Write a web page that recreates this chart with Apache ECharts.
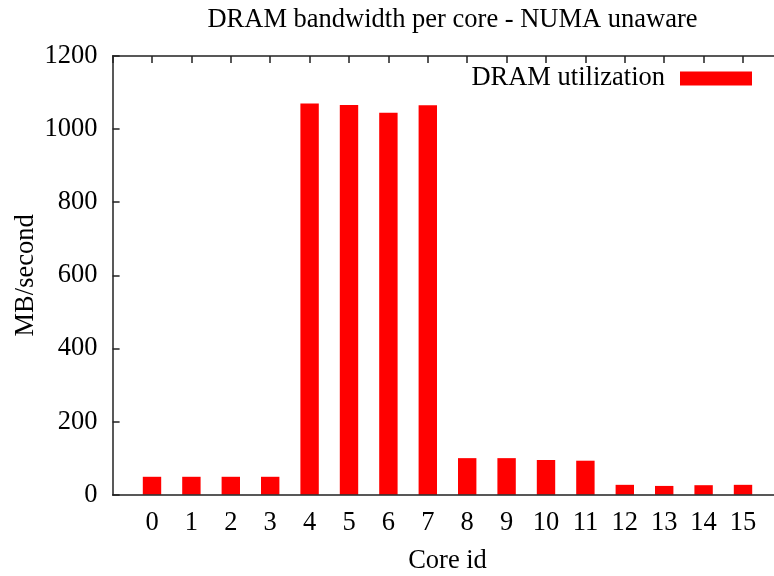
<!DOCTYPE html>
<html>
<head>
<meta charset="utf-8">
<script src="https://cdn.jsdelivr.net/npm/echarts@6/dist/echarts.min.js"></script>
<style>
  html, body { margin: 0; padding: 0; background: #fff; }
  #chart { width: 774px; height: 576px; }
</style>
</head>
<body>
<div id="chart"></div>
<script>
// Core ids and measured DRAM bandwidth (MB/s) per core
const coreIds = [0, 1, 2, 3, 4, 5, 6, 7, 8, 9, 10, 11, 12, 13, 14, 15];
const dramUtilization = [49, 49, 49, 49, 1070, 1066, 1045, 1065, 100, 100, 95, 93, 27, 24, 26, 27];
const yTicks = [0, 200, 400, 600, 800, 1000, 1200];

const FONT = '"Liberation Serif", "DejaVu Serif", serif';
const FONT_SIZE = 26.5;
const AXIS_COLOR = '#222';

const chart = echarts.init(document.getElementById('chart'), null, { renderer: 'canvas' });

const barData = coreIds.map((id, i) => [id, dramUtilization[i]]);

chart.setOption({
  backgroundColor: '#fff',
  animation: false,
  title: {
    text: 'DRAM bandwidth per core - NUMA unaware',
    left: 447.5,
    top: 2,
    textAlign: 'center',
    textStyle: { fontFamily: FONT, fontSize: FONT_SIZE, fontWeight: 'normal', color: '#000' }
  },
  legend: {
    right: 17,
    top: 60,
    align: 'right',
    itemWidth: 72,
    itemHeight: 14,
    itemGap: 0,
    icon: 'rect',
    textStyle: { fontFamily: FONT, fontSize: FONT_SIZE, color: '#000', padding: [0, 10, 0, 0] },
    data: ['DRAM utilization']
  },
  grid: {
    left: 112.6, right: -8.4, top: 56, bottom: 81.3,
    containLabel: false,
    outerBoundsMode: 'none'
  },
  xAxis: [
    {
      type: 'value',
      position: 'bottom',
      min: -1,
      max: 16,
      interval: 1,
      z: 3,
      name: 'Core id',
      nameLocation: 'middle',
      nameGap: 53,
      nameTextStyle: { fontFamily: FONT, fontSize: FONT_SIZE, color: '#000' },
      axisLine: { show: true, onZero: false, lineStyle: { color: AXIS_COLOR, width: 1.5 } },
      axisTick: { show: false },
      splitLine: { show: false },
      axisLabel: {
        fontFamily: FONT, fontSize: FONT_SIZE, color: '#000', margin: 15,
        formatter: v => (coreIds.indexOf(v) >= 0 ? String(v) : '')
      }
    },
    {
      type: 'value',
      position: 'top',
      min: -1,
      max: 16,
      interval: 1,
      z: 3,
      axisLine: { show: true, onZero: false, lineStyle: { color: AXIS_COLOR, width: 1.5 } },
      axisTick: { show: true, inside: true, length: 7, lineStyle: { color: AXIS_COLOR, width: 1.5 } },
      splitLine: { show: false },
      axisLabel: { show: false }
    }
  ],
  yAxis: {
    type: 'value',
    min: yTicks[0],
    max: yTicks[yTicks.length - 1],
    interval: 200,
    z: 3,
    name: 'MB/second',
    nameLocation: 'middle',
    nameGap: 73,
    nameMoveOverlap: false,
    nameTextStyle: { fontFamily: FONT, fontSize: FONT_SIZE, color: '#000' },
    axisLine: { show: true, onZero: false, lineStyle: { color: AXIS_COLOR, width: 1.5 } },
    axisTick: { show: true, inside: true, length: 7, lineStyle: { color: AXIS_COLOR, width: 1.5 } },
    splitLine: { show: false },
    axisLabel: {
      fontFamily: FONT, fontSize: FONT_SIZE, color: '#000', margin: 15,
      formatter: v => String(v)
    }
  },
  series: [{
    name: 'DRAM utilization',
    type: 'bar',
    xAxisIndex: 0,
    barWidth: 18.4,
    itemStyle: { color: '#ff0000' },
    data: barData
  }]
});
</script>
</body>
</html>
